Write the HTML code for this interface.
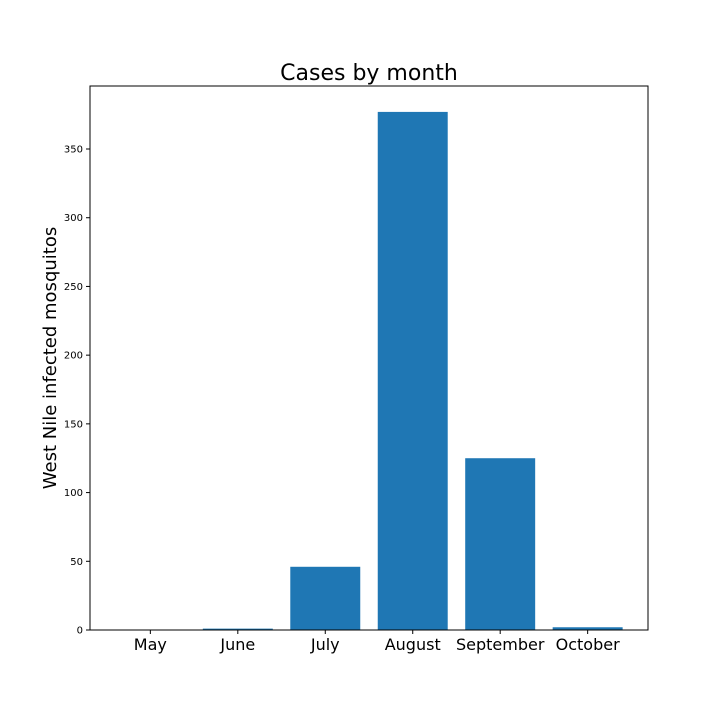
<!DOCTYPE html>
<html><head><meta charset="utf-8"><style>
body{margin:0;background:#fff;}
svg{display:block;font-family:"DejaVu Sans","Liberation Sans",sans-serif;}
</style></head><body>
<svg id="chart" width="720" height="720">
<rect width="720" height="720" fill="#fff"/>
<text x="369" y="80" text-anchor="middle" font-size="22">Cases by month</text>
<text transform="translate(56,358) rotate(-90)" text-anchor="middle" font-size="18">West Nile infected mosquitos</text>
<g id="bars"></g><g id="xticks"></g><g id="yticks"></g>
<rect x="90" y="86" width="558" height="544" fill="none" stroke="#000" stroke-width="1"/>
</svg>
<script>
const categories = ["May","June","July","August","September","October"];
const values = [0, 1, 46, 377, 125, 2];
const yTicks = [0, 50, 100, 150, 200, 250, 300, 350];
const NS="http://www.w3.org/2000/svg";
const L=90,R=648,T=86,B=630;
const xmin=-0.69,xmax=5.69,ymax=Math.max(...values)*1.05;
const xs=v=>L+(v-xmin)/(xmax-xmin)*(R-L);
const ys=v=>B-v/ymax*(B-T);
function mk(tag,attrs,parent){const e=document.createElementNS(NS,tag);for(const k in attrs)e.setAttribute(k,attrs[k]);parent.appendChild(e);return e;}
const gb=document.getElementById('bars'),gx=document.getElementById('xticks'),gy=document.getElementById('yticks');
categories.forEach((c,i)=>{
  const x0=xs(i-0.4),x1=xs(i+0.4),y=ys(values[i]);
  const r=mk('rect',{x:x0,y:y,width:x1-x0,height:B-y,fill:'#1f77b4'},gb);
  
  
  const t=mk('line',{x1:xs(i),x2:xs(i),y1:B,y2:B+4,stroke:'#000'},gx);
  
  
  const tx=mk('text',{x:xs(i),y:B+20,'text-anchor':'middle','font-size':'16'},gx);
  tx.textContent=c;
  
  
});
yTicks.forEach(v=>{
  const t=mk('line',{x1:L-4,x2:L,y1:ys(v),y2:ys(v),stroke:'#000'},gy);
  
  
  const tx=mk('text',{x:L-7,y:ys(v)+3.5,'text-anchor':'end','font-size':'10'},gy);
  tx.textContent=v;
  
  
});
</script>
</body></html>
